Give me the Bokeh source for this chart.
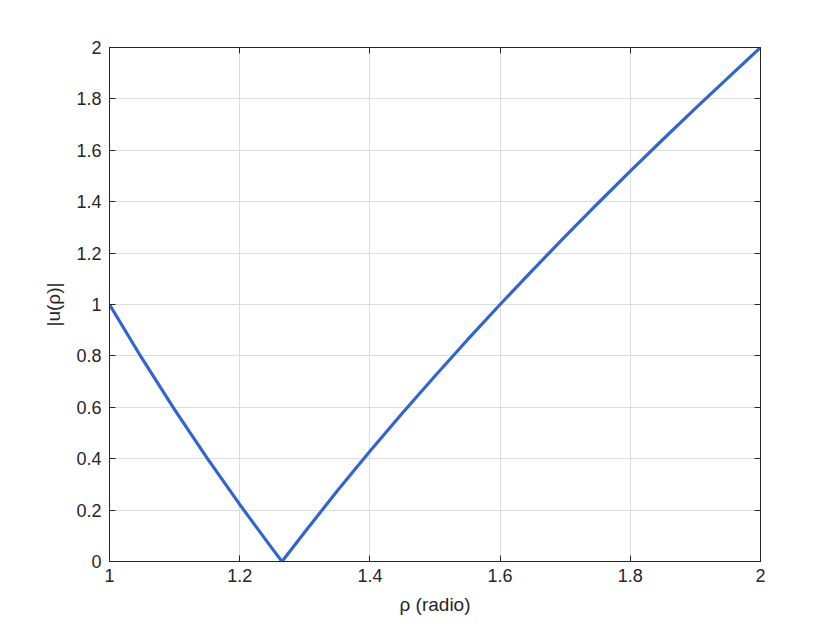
from bokeh.plotting import figure
from bokeh.models import LinearAxis, FixedTicker, Range1d
from bokeh.embed import file_html
from bokeh.resources import INLINE

rho = [1.00, 1.05, 1.10, 1.15, 1.20, 1.25, 1.265, 1.30, 1.35, 1.40, 1.45, 1.50,
       1.55, 1.60, 1.65, 1.70, 1.75, 1.80, 1.85, 1.90, 1.95, 2.00]
abs_u = [1.000, 0.790, 0.591, 0.402, 0.222, 0.050, 0.000, 0.115, 0.275, 0.429, 0.578, 0.722,
         0.863, 1.000, 1.134, 1.265, 1.393, 1.519, 1.642, 1.763, 1.882, 2.000]

x_ticks = [1, 1.2, 1.4, 1.6, 1.8, 2]
x_tick_labels = ["1", "1.2", "1.4", "1.6", "1.8", "2"]
y_ticks = [0, 0.2, 0.4, 0.6, 0.8, 1, 1.2, 1.4, 1.6, 1.8, 2]
y_tick_labels = ["0", "0.2", "0.4", "0.6", "0.8", "1", "1.2", "1.4", "1.6", "1.8", "2"]

FONT = "Liberation Sans"
AX = "#262626"

p = figure(width=820, height=618, output_backend="svg", toolbar_location=None,
           x_range=Range1d(1, 2), y_range=Range1d(0, 2),
           min_border_left=109, min_border_right=60, min_border_top=47, min_border_bottom=57)
p.outline_line_color = AX
p.outline_line_width = 1
p.background_fill_color = "white"
p.border_fill_color = "white"

p.line(rho, abs_u, line_color="#3366cc", line_width=3.2)

for ax, ticks, labels in ((p.xaxis[0], x_ticks, x_tick_labels), (p.yaxis[0], y_ticks, y_tick_labels)):
    ax.ticker = FixedTicker(ticks=ticks)
    ax.major_label_overrides = {t: l for t, l in zip(ticks, labels)}
    ax.major_tick_in = 6
    ax.major_tick_out = 0
    ax.minor_tick_line_color = None
    ax.axis_line_color = AX
    ax.major_tick_line_color = AX
    ax.major_label_text_font = FONT
    ax.major_label_text_font_size = "18px"
    ax.major_label_text_color = AX
    ax.axis_label_text_font = FONT
    ax.axis_label_text_font_size = "19px"
    ax.axis_label_text_font_style = "normal"
    ax.axis_label_text_color = AX

p.xaxis[0].major_label_standoff = 7
p.yaxis[0].major_label_standoff = 8
p.xaxis[0].axis_label = "ρ (radio)"
p.xaxis[0].axis_label_standoff = 9
p.yaxis[0].axis_label = "|u(ρ)|"
p.yaxis[0].axis_label_standoff = 9

for loc, ticks in (("above", x_ticks), ("right", y_ticks)):
    a = LinearAxis(ticker=FixedTicker(ticks=ticks))
    a.major_tick_in = 6
    a.major_tick_out = 0
    a.minor_tick_line_color = None
    a.axis_line_color = AX
    a.major_tick_line_color = AX
    a.major_label_text_font_size = "0px"
    a.major_label_text_alpha = 0
    a.major_label_standoff = 0
    p.add_layout(a, loc)

p.xgrid.ticker = FixedTicker(ticks=x_ticks)
p.ygrid.ticker = FixedTicker(ticks=y_ticks)
p.xgrid.grid_line_color = "#dcdcdc"
p.ygrid.grid_line_color = "#dcdcdc"

open("out.html", "w").write(file_html(p, INLINE))
